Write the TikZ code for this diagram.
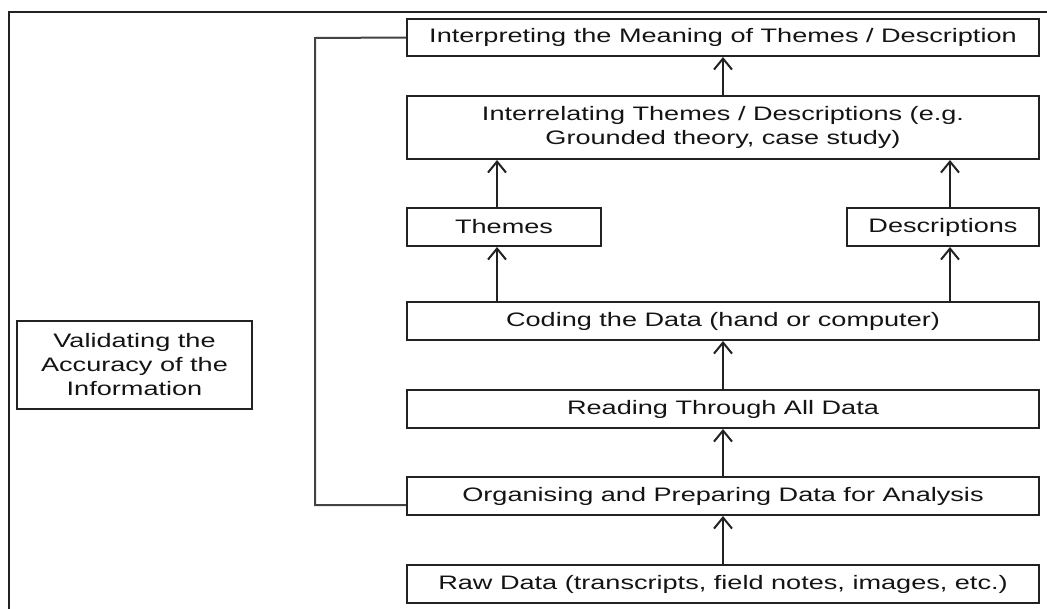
\documentclass[tikz,border=0pt]{standalone}
\usepackage{fontspec}
\setmainfont{Liberation Sans}
\usetikzlibrary{arrows.meta}

\definecolor{inkline}{HTML}{222222}
\definecolor{inktext}{HTML}{141414}
% the lettering is set wide
\newcommand{\wide}[1]{\scalebox{1.39}[1]{#1}}

\begin{document}
\begin{tikzpicture}[x=1pt, y=-1pt,
    stage/.style={draw=inkline, line width=2pt, inner sep=0pt, minimum height=38pt,
      text=inktext, align=center, font=\fontsize{19.5}{24}\selectfont},
    flow/.style={draw=inkline, line width=2pt, -{Straight Barb[length=11pt,width=18pt]}},
    loopline/.style={draw=inkline!85, line width=2pt}]
    \useasboundingbox (0,0) rectangle (1047,608);

    % outer frame, runs off the page on the right and bottom
    \begin{scope}
        \clip (0,0) rectangle (1047,608);
        \draw[inkline, line width=2pt] (9,12) rectangle (1070,630);
    \end{scope}

    \node[stage, minimum width=632pt, minimum height=37pt] (interp) at (723,37.5) {\wide{Interpreting the Meaning of Themes / Description}};
    \node[stage, minimum width=632pt, minimum height=63pt] (interrel) at (723,127.5) {\wide{Interrelating Themes / Descriptions (e.g.}\\ \wide{Grounded theory, case study)}};
    \node[stage, minimum width=194pt] (themes) at (504,227) {\wide{Themes}};
    \node[stage, minimum width=192pt] (descr) at (943,227) {\wide{Descriptions}};
    \node[stage, minimum width=632pt] (coding) at (723,321) {\wide{Coding the Data (hand or computer)}};
    \node[stage, minimum width=632pt] (reading) at (723,409) {\wide{Reading Through All Data}};
    \node[stage, minimum width=632pt] (organise) at (723,496) {\wide{Organising and Preparing Data for Analysis}};
    \node[stage, minimum width=632pt] (raw) at (723,584) {\wide{Raw Data (transcripts, field notes, images, etc.)}};

    \node[stage, minimum width=235pt, minimum height=88pt] (validate) at (134.5,365) {\wide{Validating the}\\ \wide{Accuracy of the}\\ \wide{Information}};

    \draw[flow] (raw) -- (organise);
    \draw[flow] (organise) -- (reading);
    \draw[flow] (reading) -- (coding);
    \draw[flow] ([xshift=-7pt]themes.south |- coding.north) -- ([xshift=-7pt]themes.south);
    \draw[flow] ([xshift=7pt]descr.south |- coding.north) -- ([xshift=7pt]descr.south);
    \draw[flow] ([xshift=-7pt]themes.north) -- ([xshift=-7pt]themes.north |- interrel.south);
    \draw[flow] ([xshift=7pt]descr.north) -- ([xshift=7pt]descr.north |- interrel.south);
    \draw[flow] (interrel) -- (interp);

    % feedback line down the left
    \coordinate (fbtop) at (315,38);
    \coordinate (fbbot) at (315,505);
    \draw[loopline] (interp.west) -- (fbtop) -- (fbbot) -- (fbbot -| organise.west);
\end{tikzpicture}
\end{document}
